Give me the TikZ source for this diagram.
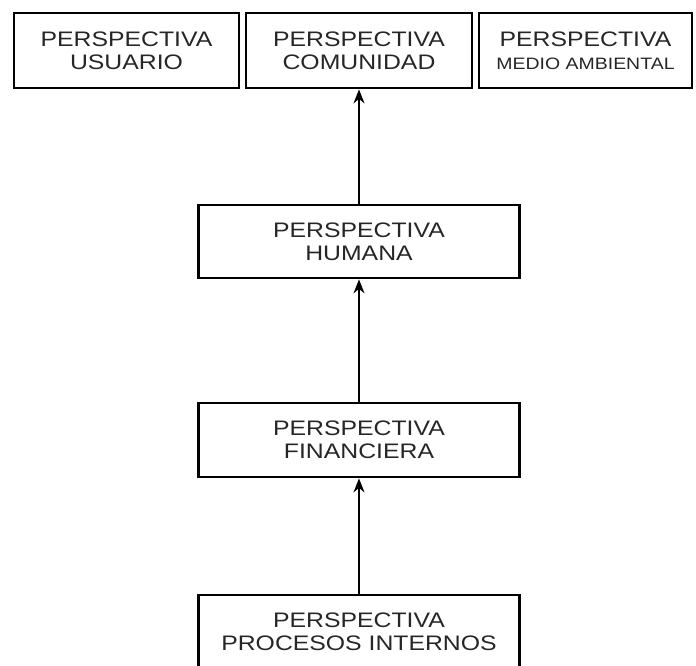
\documentclass[tikz,border=0pt]{standalone}
\usepackage{fontspec}
\setmainfont{Liberation Sans}[FakeStretch=1.18]
\usetikzlibrary{arrows.meta}
\begin{document}
\begin{tikzpicture}[x=1pt,y=1pt,>={Stealth[length=14pt,width=11pt]},
	caja/.style={draw,line width=2.8pt,minimum height=75pt,inner sep=0pt,align=center,text=black!85,font=\fontsize{21}{23}\selectfont}]
	\useasboundingbox (0,0) rectangle (696,666);
	% fila superior
	\node[caja,minimum width=225pt] (usuario) at (126.5,615.5) {PERSPECTIVA\\USUARIO};
	\node[caja,minimum width=226pt] (comunidad) at (359,615.5) {PERSPECTIVA\\COMUNIDAD};
	\node[caja,minimum width=213pt] (medio) at (585.5,615.5) {PERSPECTIVA\\{\fontsize{16.5}{23}\selectfont MEDIO AMBIENTAL}};
	% columna central
	\node[caja,minimum width=321pt,minimum height=73pt] (humana) at (359,424.5) {PERSPECTIVA\\HUMANA};
	\node[caja,minimum width=321pt,minimum height=74pt] (financiera) at (359,226) {PERSPECTIVA\\FINANCIERA};
	\node[caja,minimum width=321pt,minimum height=74pt] (procesos) at (359,34) {PERSPECTIVA\\PROCESOS INTERNOS};
	\draw[->,line width=1.8pt] (procesos) -- (financiera);
	\draw[->,line width=1.8pt] (financiera) -- (humana);
	\draw[->,line width=1.8pt] (humana) -- (comunidad);
\end{tikzpicture}
\end{document}
